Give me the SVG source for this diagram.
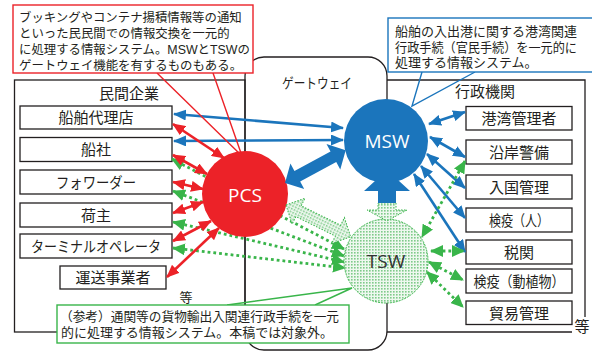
<svg xmlns="http://www.w3.org/2000/svg" width="592" height="352" viewBox="0 0 592 352">
<style>
.t{font-family:"Noto Sans CJK JP","Noto Sans",sans-serif;fill:#231f20}
.c{font-family:"Liberation Sans","Noto Sans CJK JP",sans-serif;fill:#231f20}
.n{font-size:15px;text-anchor:middle}
.box{fill:#fff;stroke:#231f20;stroke-width:1.3}
.frame{fill:none;stroke:#231f20;stroke-width:1.3}
.bl{stroke:#1b75bc;stroke-width:2.6;fill:none;marker-start:url(#hb);marker-end:url(#hb)}
.rd{stroke:#ec2228;stroke-width:2.6;fill:none;marker-start:url(#hr);marker-end:url(#hr)}
.gd{stroke:#39b54a;stroke-width:2.8;stroke-dasharray:2.8 3;fill:none;marker-start:url(#hg);marker-end:url(#hg)}
.ct{font-size:12.4px}
.cw{fill:#fff;stroke-width:1.4}
.big{font-family:"Open Sans","Noto Sans",sans-serif;font-size:19px;text-anchor:middle}
</style>
<defs>
<marker id="hb" viewBox="0 0 13 11" refX="12" refY="5.5" markerWidth="13" markerHeight="11" markerUnits="userSpaceOnUse" orient="auto-start-reverse"><path d="M0,0 L13,5.5 L0,11 z" fill="#1b75bc"/></marker>
<marker id="hr" viewBox="0 0 13 11" refX="12" refY="5.5" markerWidth="13" markerHeight="11" markerUnits="userSpaceOnUse" orient="auto-start-reverse"><path d="M0,0 L13,5.5 L0,11 z" fill="#ec2228"/></marker>
<marker id="hg" viewBox="0 0 13 12" refX="12" refY="6" markerWidth="13" markerHeight="12" markerUnits="userSpaceOnUse" orient="auto-start-reverse"><path d="M0,0 L13,6 L0,12 z" fill="#39b54a"/></marker>
<pattern id="dots" width="3" height="3" patternUnits="userSpaceOnUse"><rect width="3" height="3" fill="#eef8ef"/><rect width="1.6" height="1.6" fill="#7fcb8a"/></pattern>
</defs>

<g id="frames">
<rect class="frame" x="14.5" y="80" width="230.5" height="252"/>
<path class="frame" d="M387,80 H585 V317 M387,332 H572"/>
<rect class="frame" x="245" y="57" width="142" height="293" rx="19"/>
<text class="t" x="129" y="99" font-size="15" text-anchor="middle">民間企業</text>
<text class="t" x="485" y="97" font-size="15" text-anchor="middle">行政機関</text>
<text class="t" x="282" y="87.5" font-size="14" textLength="70" lengthAdjust="spacingAndGlyphs">ゲートウェイ</text>
<text class="t" x="186" y="302" font-size="13" text-anchor="middle">等</text>
<text class="t" x="582" y="332" font-size="15" text-anchor="middle">等</text>
</g>

<g id="left-nodes">
<g id="n-agent"><rect class="box" x="20" y="106" width="152" height="23"/><text class="t n" x="96" y="123.3">船舶代理店</text></g>
<g id="n-carrier"><rect class="box" x="20" y="137.5" width="152" height="24"/><text class="t n" x="96" y="155.3">船社</text></g>
<g id="n-forwarder"><rect class="box" x="20" y="170" width="152" height="24"/><text class="t n" x="96" y="187.7" textLength="80" lengthAdjust="spacingAndGlyphs">フォワーダー</text></g>
<g id="n-shipper"><rect class="box" x="20" y="203" width="152" height="24"/><text class="t n" x="96" y="220.7">荷主</text></g>
<g id="n-terminal"><rect class="box" x="20" y="234" width="152" height="24"/><text class="t n" x="96" y="251.7" textLength="130" lengthAdjust="spacingAndGlyphs">ターミナルオペレータ</text></g>
<g id="n-transport"><rect class="box" x="60" y="266" width="106" height="23"/><text class="t n" x="113" y="283.2">運送事業者</text></g>
</g>

<g id="right-nodes">
<g id="n-port"><rect class="box" x="466" y="106.5" width="106" height="23.5"/><text class="t n" x="519" y="124">港湾管理者</text></g>
<g id="n-coast"><rect class="box" x="466" y="140" width="106" height="24"/><text class="t n" x="519" y="157.7">沿岸警備</text></g>
<g id="n-immig"><rect class="box" x="466" y="175" width="106" height="24"/><text class="t n" x="519" y="192.7">入国管理</text></g>
<g id="n-quar1"><rect class="box" x="466" y="208" width="106" height="24"/><text class="t n" x="519" y="225.7" textLength="60" lengthAdjust="spacingAndGlyphs">検疫（人）</text></g>
<g id="n-customs"><rect class="box" x="466" y="240" width="106" height="24"/><text class="t n" x="519" y="257.7">税関</text></g>
<g id="n-quar2"><rect class="box" x="466" y="269" width="106" height="24"/><text class="t n" x="519" y="286.7" textLength="91" lengthAdjust="spacingAndGlyphs">検疫（動植物）</text></g>
<g id="n-trade"><rect class="box" x="466" y="301" width="106" height="23.5"/><text class="t n" x="519" y="318.5">貿易管理</text></g>
</g>

<g id="connectors-back">
<line class="gd" x1="172" y1="159" x2="344" y2="249"/>
<line class="gd" x1="173" y1="191" x2="344" y2="256"/>
<line class="gd" x1="173" y1="222" x2="344" y2="262"/>
<line class="gd" x1="173" y1="248" x2="345" y2="268"/>
</g>

<g id="n-pcs"><circle cx="245" cy="194" r="43" fill="#ec2228"/><text class="big" x="245" y="202" fill="#fff">PCS</text></g>
<g id="n-msw"><circle cx="386" cy="141" r="42" fill="#1b75bc"/><text class="big" x="387" y="148" fill="#fff">MSW</text></g>
<g id="n-tsw"><circle cx="386" cy="261" r="42" fill="url(#dots)" stroke="#39b54a" stroke-width="1" stroke-dasharray="2 1"/><text class="big" x="386" y="268" fill="#333">TSW</text></g>

<g id="connectors">
<line class="bl" x1="174" y1="114" x2="343" y2="128"/>
<line class="bl" x1="174" y1="141" x2="343" y2="140"/>
<line class="bl" x1="429" y1="124" x2="465" y2="112"/>
<line class="bl" x1="430" y1="137" x2="465" y2="157"/>
<line class="bl" x1="427" y1="154" x2="465" y2="188"/>
<line class="bl" x1="421" y1="166" x2="465" y2="218"/>
<line class="bl" x1="414" y1="174" x2="465" y2="252"/>
<line class="rd" x1="173" y1="124" x2="224" y2="158"/>
<line class="rd" x1="173" y1="155" x2="207" y2="174"/>
<line class="rd" x1="173" y1="182" x2="203" y2="189"/>
<line class="rd" x1="173" y1="213" x2="203" y2="202"/>
<line class="rd" x1="173" y1="241" x2="211" y2="221"/>
<line class="rd" x1="167" y1="277" x2="219" y2="228"/>
<line class="gd" x1="465" y1="161" x2="422" y2="237"/>
<line class="gd" x1="431" y1="251" x2="464" y2="251"/>
<line class="gd" x1="429" y1="262" x2="463" y2="280"/>
<line class="gd" x1="427" y1="272" x2="463" y2="307"/>
<path d="M0,0 L14,-14.5 L14,-6 L55,-6 L55,-14.5 L69,0 L55,14.5 L55,6 L14,6 L14,14.5 Z" fill="#1b75bc" transform="translate(285,183) rotate(-28.4)"/>
<path d="M0,0 L14,-14.5 L14,-6 L58,-6 L58,-14.5 L72,0 L58,14.5 L58,6 L14,6 L14,14.5 Z" fill="url(#dots)" stroke="#39b54a" stroke-width="1" stroke-dasharray="1.5 1.5" transform="translate(286,205) rotate(26.2)"/>
<path d="M378,203 L396,203 L396,210 L407,210 L387,221 L367,210 L378,210 Z" fill="url(#dots)" stroke="#39b54a" stroke-width="1" stroke-dasharray="1.5 1.5"/>
<path d="M387,170 L410,191 L396,191 L396,203 L378,203 L378,191 L364,191 Z" fill="#1b75bc"/>
</g>

<g id="callout-pcs">
<path d="M157,73 L242,156 L213,73" fill="none" stroke="#ec2228" stroke-width="1.4"/>
<rect class="cw" x="13" y="5" width="240" height="68" stroke="#ec2228"/>
<text class="c ct"><tspan x="19" y="21.5">ブッキングやコンテナ揚積情報等の通知</tspan><tspan x="19" y="37.7">といった民民間での情報交換を一元的</tspan><tspan x="19" y="53.7">に処理する情報システム。MSWとTSWの</tspan><tspan x="19" y="69.5">ゲートウェイ機能を有するものもある。</tspan></text>
</g>

<g id="callout-msw">
<path d="M422,72 L412,106 L475,72" fill="none" stroke="#1b75bc" stroke-width="1.4"/>
<rect class="cw" x="388" y="18" width="210" height="54" stroke="#1b75bc"/>
<text class="c" font-size="13"><tspan x="395" y="36" textLength="182" lengthAdjust="spacingAndGlyphs">船舶の入出港に関する港湾関連</tspan><tspan x="395" y="52" textLength="182" lengthAdjust="spacingAndGlyphs">行政手続（官民手続）を一元的に</tspan><tspan x="395" y="67">処理する情報システム。</tspan></text>
</g>

<g id="callout-tsw">
<path d="M227,305 L352,288 L315,305" fill="none" stroke="#39b54a" stroke-width="1.4"/>
<rect class="cw" x="57" y="305" width="292" height="38" stroke="#39b54a"/>
<text class="c" font-size="12.8"><tspan x="60" y="321" textLength="279" lengthAdjust="spacingAndGlyphs">（参考）通関等の貨物輸出入関連行政手続を一元</tspan><tspan x="61" y="337" textLength="272" lengthAdjust="spacingAndGlyphs">的に処理する情報システム。本稿では対象外。</tspan></text>
</g>
</svg>
